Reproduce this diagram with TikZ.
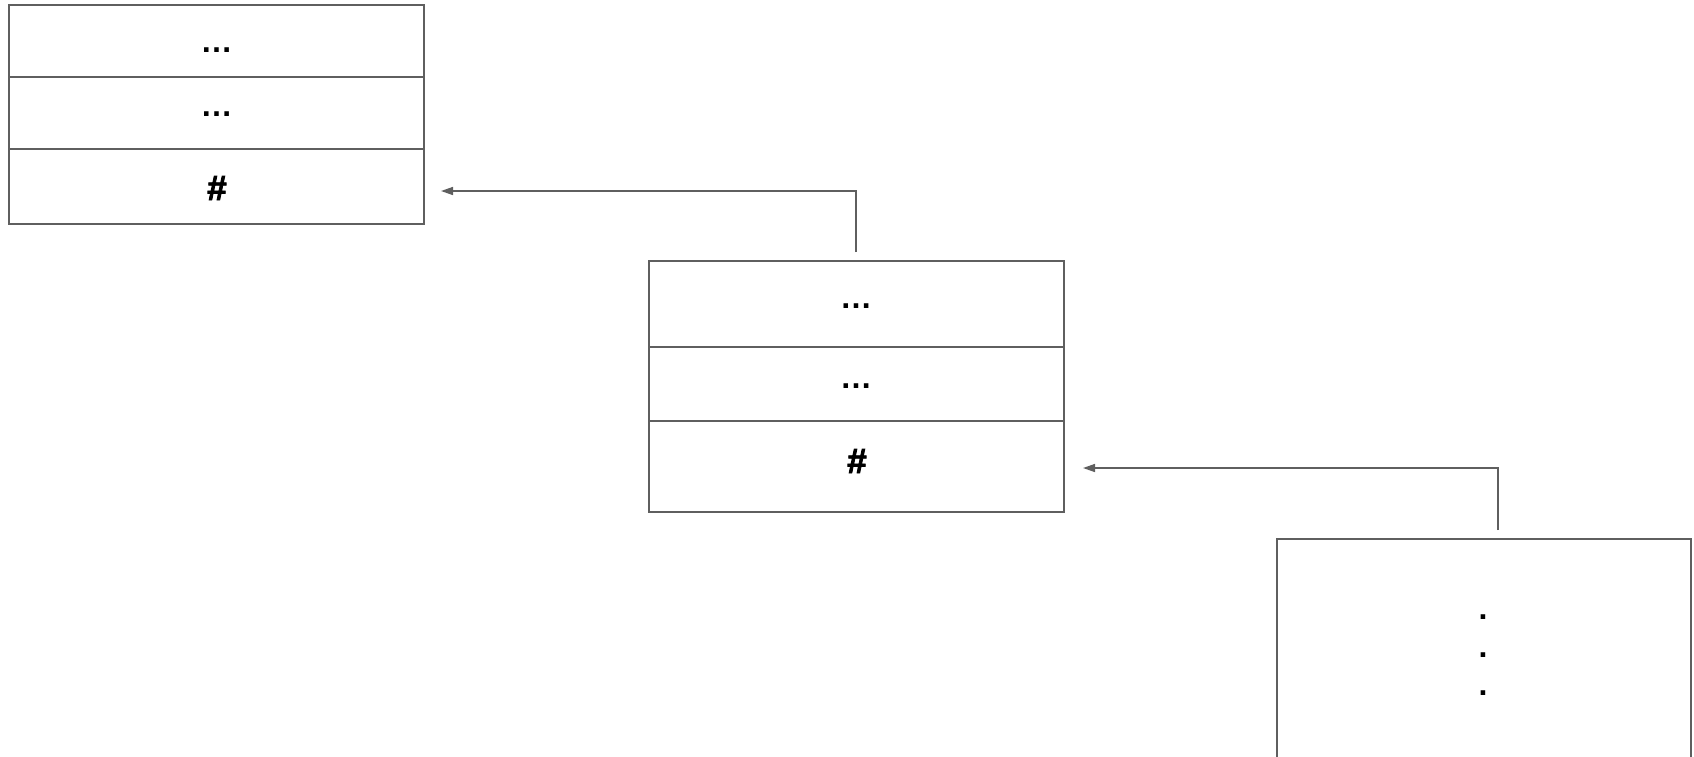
\documentclass[tikz,border=0pt]{standalone}
\usepackage{fontspec}
\setmainfont{Liberation Sans}[BoldFont={Liberation Sans Bold}]
\newfontfamily\hashfont{Liberation Sans Bold}[FakeBold=2.5]
\usetikzlibrary{arrows.meta}
\definecolor{linegray}{HTML}{5F5F5F}
\tikzset{
  cell/.style={draw=linegray, line width=1.5pt, rectangle, anchor=north west, inner sep=0pt},
  lbl/.style={anchor=base, inner sep=0pt, font=\fontsize{32}{34}\selectfont\bfseries},
  hash/.style={anchor=base, inner sep=0pt, font=\fontsize{35}{37}\selectfont\hashfont},
  conn/.style={draw=linegray, line width=1.5pt, -{Triangle[length=12pt,width=8pt]}},
}
\begin{document}
\begin{tikzpicture}[x=1pt,y=-1pt]
\useasboundingbox (0,0) rectangle (1694,756);
\clip (0,0) rectangle (1694,756);
% box 1
\node[cell, minimum width=415pt, minimum height=72pt] (b1c1) at (8,4) {};
\node[cell, minimum width=415pt, minimum height=72pt] (b1c2) at (8,76) {};
\node[cell, minimum width=415pt, minimum height=75pt] (b1c3) at (8,148) {};
\node[lbl] (t11) at (216.5,52) {…};
\node[lbl] (t12) at (216.5,116) {…};
\node[hash] (t13) at (217,200) {\#};
% box 2
\node[cell, minimum width=415pt, minimum height=86pt] (b2c1) at (648,260) {};
\node[cell, minimum width=415pt, minimum height=74pt] (b2c2) at (648,346) {};
\node[cell, minimum width=415pt, minimum height=91pt] (b2c3) at (648,420) {};
\node[lbl] (t21) at (856,308) {…};
\node[lbl] (t22) at (856,388) {…};
\node[hash] (t23) at (857,473) {\#};
% box 3
\node[cell, minimum width=414pt, minimum height=260pt] (b3) at (1276,538) {};
\node[lbl] (d1) at (1483,619) {.};
\node[lbl] (d2) at (1483,657) {.};
\node[lbl] (d3) at (1483,695) {.};
% connectors
\coordinate (s1) at (856,252);
\coordinate (e1) at (441,191);
\coordinate (s2) at (1498,530);
\coordinate (e2) at (1083,468);
\draw[conn] (s1) |- (e1);
\draw[conn] (s2) |- (e2);
\end{tikzpicture}
\end{document}
